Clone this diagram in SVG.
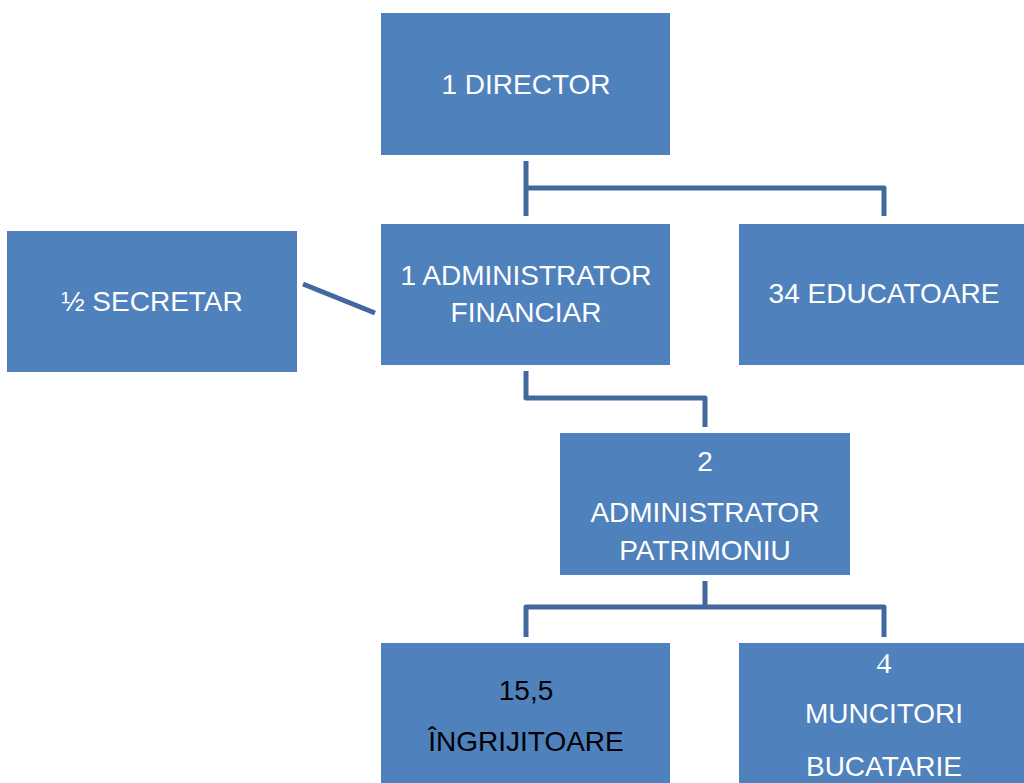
<svg xmlns="http://www.w3.org/2000/svg" width="1024" height="783" viewBox="0 0 1024 783">
<style>
.box{fill:#4F81BD}
.t{font-family:"Liberation Sans",Arial,sans-serif;font-size:28px;fill:#FFFFFF;text-anchor:middle}
.dk{fill:#000000}
.sf{font-family:"Liberation Serif","Times New Roman",serif;font-size:30px}
.c{fill:none;stroke:#41699E;stroke-width:5;stroke-linejoin:round}
</style>
<rect width="1024" height="783" fill="#FFFFFF"/>
<g id="connectors">
<path class="c" d="M526,161 V216 M526,188 H884 V216"/>
<path class="c" d="M303,284 L375,313"/>
<path class="c" d="M526,371 V398 H705 V427"/>
<path class="c" d="M705,581 V607 M526,637 V607 H884 V637"/>
</g>
<g id="director">
<rect class="box" x="381" y="13" width="289" height="142"/>
<text class="t" x="526" y="94">1 DIRECTOR</text>
</g>
<g id="secretar">
<rect class="box" x="7" y="231" width="290" height="141"/>
<text class="t" x="152" y="311">½ SECRETAR</text>
</g>
<g id="admin-financiar">
<rect class="box" x="381" y="224" width="289" height="141"/>
<text class="t" x="526" y="285">1 ADMINISTRATOR</text>
<text class="t" x="526" y="322">FINANCIAR</text>
</g>
<g id="educatoare">
<rect class="box" x="739" y="224" width="285" height="141"/>
<text class="t" x="884" y="303">34 EDUCATOARE</text>
</g>
<g id="admin-patrimoniu">
<rect class="box" x="560" y="433" width="290" height="142"/>
<text class="t" x="705" y="471">2</text>
<text class="t" x="705" y="522">ADMINISTRATOR</text>
<text class="t" x="705" y="560">PATRIMONIU</text>
</g>
<g id="ingrijitoare">
<rect class="box" x="381" y="643" width="289" height="140"/>
<text class="t dk" x="526" y="700">15,5</text>
<text class="t dk" x="526" y="751">ÎNGRIJITOARE</text>
</g>
<g id="muncitori">
<rect class="box" x="739" y="643" width="285" height="140"/>
<text class="t sf" x="884" y="673">4</text>
<text class="t" x="884" y="723">MUNCITORI</text>
<text class="t" x="884" y="776">BUCATARIE</text>
</g>
</svg>
